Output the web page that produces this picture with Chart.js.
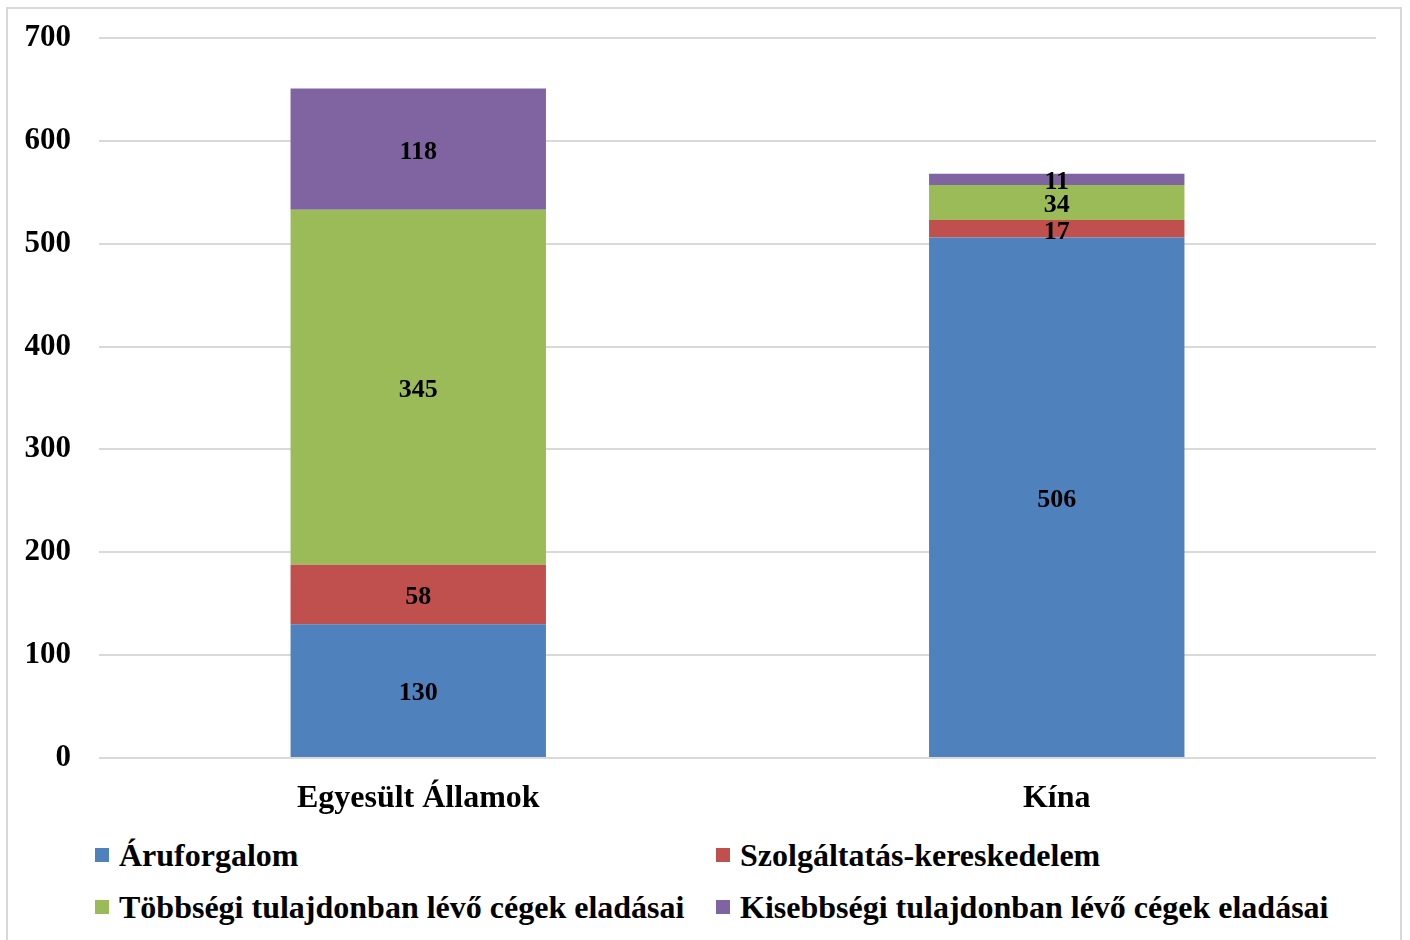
<!DOCTYPE html>
<html>
<head>
<meta charset="utf-8">
<script src="https://cdn.jsdelivr.net/npm/chart.js@4/dist/chart.umd.min.js"></script>
<style>
  html, body { margin: 0; padding: 0; background: #fff; }
  body { width: 1410px; height: 940px; position: relative; overflow: hidden; font-family: "Liberation Serif", "Times New Roman", serif; }
  #frame { position: absolute; left: 6px; top: 7px; width: 1396px; height: 960px; border: 2px solid #d9d9d9; box-sizing: border-box; }
  #wrap { position: absolute; left: 0; top: 0; width: 1410px; height: 818px; }
  #legend { position: absolute; left: 95px; top: 829px; display: grid; grid-template-columns: 621px 621px; grid-auto-rows: 52px; }
  .item { display: flex; align-items: center; font-weight: bold; font-size: 32px; color: #000; white-space: nowrap; }
  .sw { width: 14px; height: 14px; margin-right: 10px; flex: none; }
</style>
</head>
<body>
<div id="frame"></div>
<div id="wrap"><canvas id="c" width="1410" height="818"></canvas></div>
<div id="legend"></div>
<script>
const categories = ["Egyesült Államok", "Kína"];
const seriesNames = ["Áruforgalom", "Szolgáltatás-kereskedelem", "Többségi tulajdonban lévő cégek eladásai", "Kisebbségi tulajdonban lévő cégek eladásai"];
const aruforgalom = [130, 506];
const szolgaltatas = [58, 17];
const tobbsegi = [345, 34];
const kisebbsegi = [118, 11];
const yTicks = [0, 100, 200, 300, 400, 500, 600, 700];
const colors = ["#4F81BD", "#C0504D", "#9BBB59", "#8064A2"];

const seriesValues = [aruforgalom, szolgaltatas, tobbsegi, kisebbsegi];
const FONT = "'Liberation Serif', 'Times New Roman', serif";

const labelPlugin = {
  id: 'segLabels',
  afterDatasetsDraw(chart) {
    const ctx = chart.ctx;
    ctx.save();
    ctx.font = "bold 26px " + FONT;
    ctx.fillStyle = "#000";
    ctx.textAlign = "center";
    ctx.textBaseline = "middle";
    chart.data.datasets.forEach((ds, i) => {
      const meta = chart.getDatasetMeta(i);
      meta.data.forEach((el, j) => {
        const p = el.getProps(['x', 'y', 'base'], true);
        ctx.fillText(String(ds.data[j]), p.x, (p.y + p.base) / 2 + 3);
      });
    });
    ctx.restore();
  }
};

const chart = new Chart(document.getElementById('c'), {
  type: 'bar',
  data: {
    labels: categories,
    datasets: seriesNames.map((n, i) => ({
      label: n,
      data: seriesValues[i],
      backgroundColor: colors[i],
      borderWidth: 0,
      categoryPercentage: 0.4,
      barPercentage: 1.0
    }))
  },
  options: {
    responsive: false,
    animation: false,
    layout: { padding: { left: 0, right: 34, top: 38, bottom: 0 } },
    plugins: { legend: { display: false }, tooltip: { enabled: false } },
    scales: {
      x: {
        stacked: true,
        afterFit(s) { s.height = 60; s.paddingLeft = 0; s.paddingRight = 0; },
        grid: { display: false },
        border: { display: false },
        ticks: { color: '#000', font: { family: FONT, size: 32, weight: 'bold' }, padding: 14 }
      },
      y: {
        stacked: true,
        min: 0, max: 700,
        afterFit(s) { s.width = 99; s.paddingTop = 0; s.paddingBottom = 0; },
        afterBuildTicks(s) { s.ticks = yTicks.map(v => ({ value: v })); },
        grid: { color: '#d9d9d9', lineWidth: 2, drawTicks: false },
        border: { display: false },
        ticks: { color: '#000', font: { family: FONT, size: 31, weight: 'bold' }, padding: 28 }
      }
    }
  },
  plugins: [labelPlugin]
});

const leg = document.getElementById('legend');
chart.data.datasets.forEach(ds => {
  const d = document.createElement('div');
  d.className = 'item';
  const s = document.createElement('span');
  s.className = 'sw';
  s.style.background = ds.backgroundColor;
  d.appendChild(s);
  d.appendChild(document.createTextNode(ds.label));
  leg.appendChild(d);
});
</script>
</body>
</html>
